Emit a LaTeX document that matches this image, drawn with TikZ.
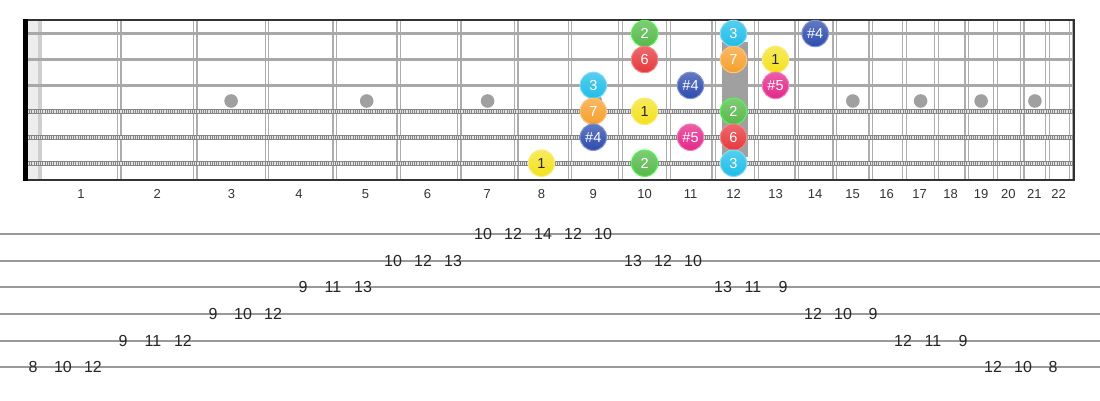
\documentclass[tikz,border=0pt]{standalone}
\usepackage{fontspec}
\setmainfont{Liberation Sans}
\definecolor{markgray}{HTML}{A0A0A0}
\definecolor{fretgray}{HTML}{ADADAD}
\definecolor{strgray}{HTML}{A8A8A8}
\definecolor{tabgray}{HTML}{999999}
\definecolor{frame}{HTML}{333333}
\definecolor{cyel}{HTML}{F4E11C}
\definecolor{cgrn}{HTML}{58B84C}
\definecolor{ccya}{HTML}{1FBDE8}
\definecolor{cblu}{HTML}{2E4CAE}
\definecolor{cmag}{HTML}{E4288A}
\definecolor{cred}{HTML}{E6383C}
\definecolor{cora}{HTML}{F6A02E}
\tikzset{
  note/.style={circle, minimum size=26.5pt, inner sep=0pt, line width=1pt,
    font=\fontsize{14.5}{14.5}\selectfont, text=white},
  d1/.style={note, top color=cyel!70!white, bottom color=cyel, draw=cyel!60!white, text=black!85},
  d2/.style={note, top color=cgrn!75!white, bottom color=cgrn, draw=green!70!white},
  d3/.style={note, top color=ccya!75!white, bottom color=ccya, draw=ccya!55!white},
  d4/.style={note, top color=cblu!75!white, bottom color=cblu, draw=cblu!60!white},
  d5/.style={note, top color=cmag!75!white, bottom color=cmag, draw=cmag!60!white},
  d6/.style={note, top color=cred!75!white, bottom color=cred, draw=cred!60!white},
  d7/.style={note, top color=cora!75!white, bottom color=cora, draw=cora!60!white},
  fretnum/.style={font=\fontsize{13}{13}\selectfont, text=black!80, inner sep=0pt},
  tabnum/.style={font=\fontsize{16}{16}\selectfont, text=black!85, inner sep=0pt},
  tabline/.style={draw=tabgray, line width=2pt},
  plainstr/.style={draw=strgray, line width=3pt},
  woundbase/.style={draw=black!48, line width=5pt},
  woundtex/.style={draw=white!78!gray, line width=3pt, dash pattern=on 1.1pt off 1.1pt},
  fretline/.style={draw=fretgray, line width=1.2pt},
}
\begin{document}
\begin{tikzpicture}[x=1pt,y=-1pt]
\useasboundingbox (0,0) rectangle (1100,400);
\fill[white] (0,0) rectangle (1100,400);
% nut strip
\fill[gray!14] (28,20) rectangle (42,180);
\fill[gray!38] (38,20) rectangle (41.5,180);
% frets (double lines)
\foreach \x in {119.1,195.2,267.0,334.7,398.7,459.1,516.1,569.9,620.6,668.6,713.8,756.5,796.8,834.8,870.7,904.6,936.6,966.8,995.3,1022.2,1047.6,1071.0}{
  \draw[fretline] (\x-1.8,20) -- (\x-1.8,180);
  \draw[fretline] (\x+1.8,20) -- (\x+1.8,180);
}
% strings
\foreach \y in {33.5,59.5,85.4}{
  \draw[plainstr] (28,\y) -- (1073,\y);
}
\foreach \y in {111.3,137.2,163.2}{
  \draw[woundbase] (28,\y) -- (1073,\y);
  \draw[woundtex] (28,\y) -- (1073,\y);
}
% position markers
\fill[markgray] (722,42) rectangle (748,157);
\foreach \x in {231.1,366.7,487.6,595.3,852.8,920.6,981.1,1034.9}{
  \fill[markgray] (\x,101) circle (6.8);
}
% frame
\draw[frame, line width=1.8pt] (23,20) -- (1073.5,20);
\draw[frame, line width=1.8pt] (23,180) -- (1073.5,180);
\draw[frame, line width=2pt] (1073.5,19.1) -- (1073.5,180.9);
\fill[black] (23,19.1) rectangle (28,180.9);
% fret numbers
\foreach \x [count=\i] in {81,157.2,231.6,298.9,365.5,427.4,487.3,541.5,593.3,644.6,690.5,733.5,775.5,815.2,852.5,886.7,919.6,950.7,981.1,1008.3,1034.4,1058.6}{
  \node[fretnum] (f\i) at (\x,194) {\i};
}
% notes
\node[d2] (s1a) at (644.6,33.5) {2};
\node[d3] (s1b) at (733.5,33.5) {3};
\node[d4] (s1c) at (815.2,33.5) {\#4};
\node[d6] (s2a) at (644.6,59.5) {6};
\node[d7] (s2b) at (733.5,59.5) {7};
\node[d1] (s2c) at (775.5,59.5) {1};
\node[d3] (s3a) at (593.3,85.4) {3};
\node[d4] (s3b) at (690.5,85.4) {\#4};
\node[d5] (s3c) at (775.5,85.4) {\#5};
\node[d7] (s4a) at (593.3,111.3) {7};
\node[d1] (s4b) at (644.6,111.3) {1};
\node[d2] (s4c) at (733.5,111.3) {2};
\node[d4] (s5a) at (593.3,137.2) {\#4};
\node[d5] (s5b) at (690.5,137.2) {\#5};
\node[d6] (s5c) at (733.5,137.2) {6};
\node[d1] (s6a) at (541.5,163.2) {1};
\node[d2] (s6b) at (644.6,163.2) {2};
\node[d3] (s6c) at (733.5,163.2) {3};
% tab lines
\foreach \y [count=\i] in {234,260.7,287.3,314,340.7,367.3}{
  \coordinate (tl\i) at (0,\y);
  \coordinate (tr\i) at (1100,\y);
  \draw[tabline] (tl\i) -- (tr\i);
}
% tab numbers: string index / fret
\foreach \s/\f [count=\k from 0] in {6/8,6/10,6/12,5/9,5/11,5/12,4/9,4/10,4/12,3/9,3/11,3/13,2/10,2/12,2/13,1/10,1/12,1/14,1/12,1/10,2/13,2/12,2/10,3/13,3/11,3/9,4/12,4/10,4/9,5/12,5/11,5/9,6/12,6/10,6/8}{
  \pgfmathsetmacro{\tx}{33+30*\k}
  \pgfmathsetmacro{\ty}{234+26.66*(\s-1)}
  \node[tabnum] (t\k) at (\tx,\ty) {\f};
}
\end{tikzpicture}
\end{document}
